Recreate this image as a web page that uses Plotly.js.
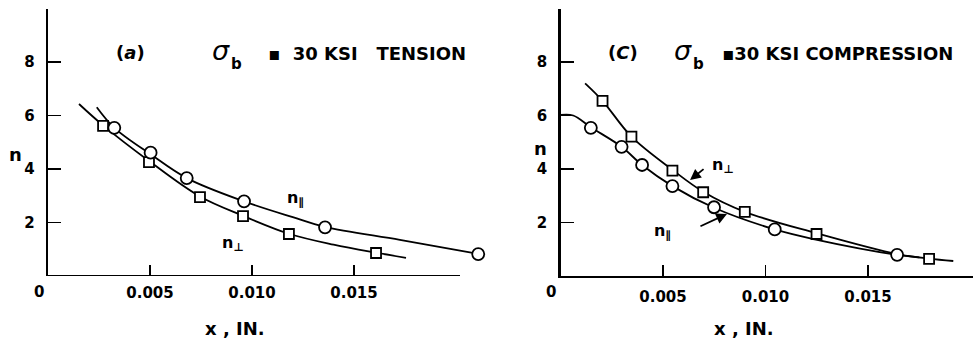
<!DOCTYPE html>
<html>
<head>
<meta charset="utf-8">
<script src="https://cdn.plot.ly/plotly-3.0.1.min.js"></script>
<style>html,body{margin:0;padding:0;background:#fff;}#chart{width:980px;height:343px;}</style>
</head>
<body>
<div id="chart"></div>
<script>
// ---- Panel (a): sigma_b = 30 KSI tension ----
var aPerpX = [0.00270, 0.00495, 0.00745, 0.00956, 0.01181, 0.01608];
var aPerpY = [5.61, 4.26, 2.95, 2.24, 1.57, 0.86];
var aParX  = [0.00325, 0.00503, 0.00680, 0.00961, 0.01358, 0.02109];
var aParY  = [5.54, 4.61, 3.66, 2.79, 1.82, 0.82];
// fitted curves
var aPerpCurveX = [0.00152, 0.00270, 0.00495, 0.00745, 0.00956, 0.01181, 0.01400, 0.01608, 0.01755];
var aPerpCurveY = [6.43, 5.63, 4.30, 2.97, 2.25, 1.58, 1.17, 0.87, 0.68];
var aParCurveX  = [0.00239, 0.00325, 0.00503, 0.00680, 0.00961, 0.01200, 0.01358, 0.01725, 0.02109];
var aParCurveY  = [6.31, 5.54, 4.55, 3.66, 2.79, 2.20, 1.84, 1.35, 0.83];

// ---- Panel (c): sigma_b = 30 KSI compression ----
var cPerpX = [0.00205, 0.00346, 0.00546, 0.00696, 0.00899, 0.01249, 0.01798];
var cPerpY = [6.55, 5.21, 3.94, 3.13, 2.40, 1.57, 0.64];
var cParX  = [0.00148, 0.00298, 0.00398, 0.00546, 0.00749, 0.01045, 0.01642];
var cParY  = [5.54, 4.83, 4.15, 3.36, 2.57, 1.74, 0.79];
var cPerpCurveX = [0.00120, 0.00205, 0.00346, 0.00546, 0.00696, 0.00899, 0.01249, 0.01642, 0.01798, 0.01916];
var cPerpCurveY = [7.20, 6.55, 5.21, 3.97, 3.15, 2.40, 1.60, 0.82, 0.65, 0.56];
var cParCurveX  = [0.00000, 0.00062, 0.00148, 0.00298, 0.00398, 0.00546, 0.00749, 0.01045, 0.01240, 0.01642, 0.01750];
var cParCurveY  = [6.02, 6.00, 5.56, 4.83, 4.15, 3.36, 2.55, 1.74, 1.37, 0.79, 0.70];

var xTickVals = [0.005, 0.010, 0.015];
var xTickText = ['0.005', '0.010', '0.015'];
var yTickVals = [2, 4, 6, 8];
var yTickText = ['2', '4', '6', '8'];

var W = 980, H = 343;
function px(x){ return x / W; }
function py(y){ return 1 - y / H; }

var lineStyle = {color: '#000', width: 1.8, shape: 'spline', smoothing: 1};
function curve(x, y, xa, ya){ return {x: x, y: y, xaxis: xa, yaxis: ya, mode: 'lines', line: lineStyle, hoverinfo: 'skip', showlegend: false}; }
function pts(x, y, xa, ya, sym, sz){ return {x: x, y: y, xaxis: xa, yaxis: ya, mode: 'markers', cliponaxis: false, showlegend: false,
  marker: {symbol: sym, size: sz, color: '#fff', line: {color: '#000', width: 1.8}}}; }

var data = [
  curve(aPerpCurveX, aPerpCurveY, 'x', 'y'),
  curve(aParCurveX, aParCurveY, 'x', 'y'),
  pts(aPerpX, aPerpY, 'x', 'y', 'square', 10),
  pts(aParX, aParY, 'x', 'y', 'circle', 12),
  curve(cPerpCurveX, cPerpCurveY, 'x2', 'y2'),
  curve(cParCurveX, cParCurveY, 'x2', 'y2'),
  pts(cPerpX, cPerpY, 'x2', 'y2', 'square', 10),
  pts(cParX, cParY, 'x2', 'y2', 'circle', 12)
];

var tickFont = {family: 'DejaVu Sans', size: 15, color: '#000', weight: 'bold'};
function xAxis(dom, range, showline){
  return {domain: dom, range: range, showgrid: false, zeroline: false, showline: showline, linecolor: '#000', linewidth: 2.2,
    tickvals: xTickVals, ticktext: xTickText, ticks: 'inside', ticklen: 11, tickwidth: 1.6, tickcolor: '#000',
    tickfont: tickFont, ticklabelstandoff: 6, fixedrange: true};
}
function yAxis(anchor){
  return {domain: [py(276), py(8.5)], range: [0, 10], anchor: anchor, showgrid: false, zeroline: false, showline: true,
    linecolor: '#000', linewidth: 2.2, tickvals: yTickVals, ticktext: yTickText, ticks: 'inside', ticklen: 13,
    tickwidth: 1.6, tickcolor: '#000', tickfont: tickFont, ticklabelstandoff: 8, fixedrange: true};
}

var lblFont = {family: 'DejaVu Sans', size: 18, color: '#000', weight: 'bold'};
var smallFont = {family: 'DejaVu Sans', size: 16, color: '#000', weight: 'bold'};
var parenFont = {family: 'DejaVu Sans', size: 18, color: '#000', weight: 'bold'};
var sigmaFont = {family: 'DejaVu Sans', size: 27, color: '#000', style: 'italic'};
var bFont = {family: 'DejaVu Sans', size: 15, color: '#000', weight: 'bold'};
function ann(x, y, text, font, xanchor){
  return {xref: 'paper', yref: 'paper', x: px(x), y: py(y), text: text, showarrow: false, font: font,
    xanchor: xanchor || 'center', yanchor: 'middle'};
}
var NB = '\u00a0';

var annotations = [
  ann(130, 52, '(<i>a</i>)', parenFont),
  ann(221, 50, 'σ', sigmaFont),
  ann(236, 64, 'b', bFont),
  ann(266, 53, '▪' + NB + NB + '30 KSI' + NB + NB + NB + 'TENSION', lblFont, 'left'),
  ann(623, 52, '(<i>C</i>)', parenFont),
  ann(683, 50, 'σ', sigmaFont),
  ann(698, 64, 'b', bFont),
  ann(720, 53, '▪30 KSI COMPRESSION', lblFont, 'left'),
  ann(39, 292, '0', tickFont),
  ann(551, 292, '0', tickFont),
  ann(235, 328, 'x , IN.', lblFont),
  ann(744, 328, 'x , IN.', lblFont),
  ann(15, 155, 'n', lblFont),
  ann(540, 148, 'n', lblFont),
  ann(295, 198, 'n<sub>∥</sub>', smallFont),
  ann(233, 243, 'n<sub>⊥</sub>', smallFont),
  ann(723, 165, 'n<sub>⊥</sub>', smallFont),
  ann(662, 232, 'n<sub>∥</sub>', smallFont),
  // pointer arrows in panel (c)
  {xref: 'x2', yref: 'y2', x: 0.00632, y: 3.59, ax: 15, ay: -12, text: '', showarrow: true, arrowhead: 2, arrowsize: 1.2,
   arrowwidth: 1.8, arrowcolor: '#000', standoff: 0},
  {xref: 'x2', yref: 'y2', x: 0.00812, y: 2.32, ax: -28, ay: 13, text: '', showarrow: true, arrowhead: 2, arrowsize: 1.2,
   arrowwidth: 1.8, arrowcolor: '#000', standoff: 0}
];

var layout = {
  width: W, height: H, margin: {l: 0, r: 0, t: 0, b: 0}, paper_bgcolor: '#fff', plot_bgcolor: 'rgba(0,0,0,0)',
  showlegend: false,
  xaxis: xAxis([px(48), px(484)], [0, 436 / 20400], false),
  yaxis: yAxis('x'),
  xaxis2: xAxis([px(560.5), px(973)], [0, 412.5 / 20500], true),
  yaxis2: yAxis('x2'),
  shapes: [
    {type: 'line', xref: 'x', yref: 'y', x0: 0, x1: 412 / 20400, y0: 0, y1: 0, line: {color: '#000', width: 2.2}, layer: 'above'}
  ],
  annotations: annotations
};

Plotly.newPlot('chart', data, layout, {displayModeBar: false, staticPlot: true});
</script>
</body>
</html>
